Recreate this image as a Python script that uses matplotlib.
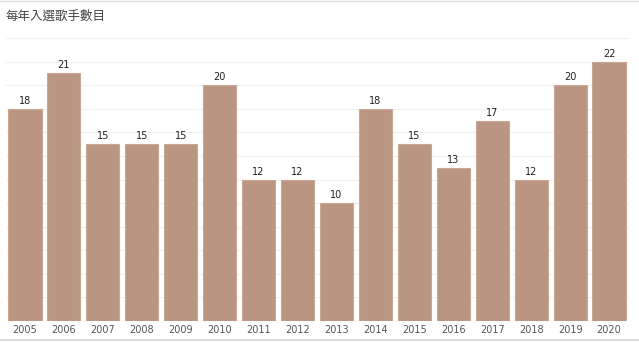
import matplotlib.pyplot as plt

plt.rcParams['font.family'] = ['Noto Sans CJK TC', 'DejaVu Sans']

years = ['2005', '2006', '2007', '2008', '2009', '2010', '2011', '2012',
         '2013', '2014', '2015', '2016', '2017', '2018', '2019', '2020']
counts = [18, 21, 15, 15, 15, 20, 12, 12, 10, 18, 15, 13, 17, 12, 20, 22]

fig = plt.figure(figsize=(6.39, 3.42), dpi=100)
ax = fig.add_axes([5.5 / 639, 21 / 342, 623 / 639, 283 / 342])

x = range(len(years))
ax.bar(x, counts, width=0.85, color='#ba9682', edgecolor='#c9a995', linewidth=0.8, zorder=2)
for i, v in enumerate(counts):
    ax.text(i, v + 0.25, str(v), ha='center', va='bottom', fontsize=7, color='#222222', family='DejaVu Sans')

ax.set_xlim(-0.5, len(years) - 0.5)
ax.set_ylim(0, 24)
ax.set_yticks(range(0, 25, 2))
ax.set_yticklabels([])
ax.tick_params(axis='y', length=0)
ax.grid(axis='y', color='#f0f0f0', linewidth=0.8, zorder=0)
ax.set_xticks(list(x))
ax.set_xticklabels(years, fontsize=7, color='#555555', family='DejaVu Sans')
ax.tick_params(axis='x', length=0, pad=3)
for s in ax.spines.values():
    s.set_visible(False)

fig.text(6 / 639, 1 - 16 / 342, '每年入選歌手數目', fontsize=9, color='#444444', va='center')

# thin frame lines along top and bottom edges
fig.add_artist(plt.Line2D([0, 1], [1 - 1 / 342, 1 - 1 / 342], color='#dddddd', linewidth=1))
fig.add_artist(plt.Line2D([0, 1], [2 / 342, 2 / 342], color='#dddddd', linewidth=1.5))

fig.savefig('out.png', dpi=100)
